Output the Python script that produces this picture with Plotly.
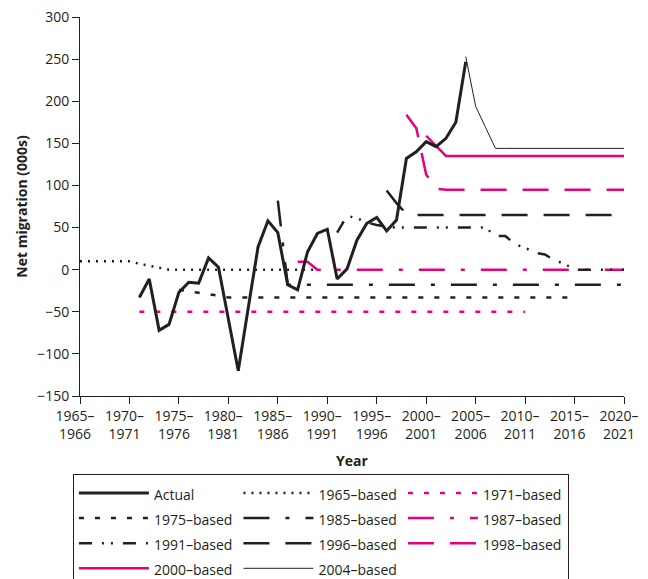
import plotly.graph_objects as go

# ---------------- data ----------------
actual_years = list(range(1971, 2005))
actual_vals = [-33, -11, -72, -65, -27, -15, -16, 14, 3, -58, -120, -46, 27, 58, 44,
               -18, -24, 21, 43, 48, -11, 1, 35, 55, 62, 46, 59, 132, 140, 152,
               146, 156, 175, 247]

p1965_years = list(range(1965, 1990))
p1965_vals = [10, 10, 10, 10, 10, 10, 7, 4.5, 2, 0, 0, 0, 0, 0, 0, 0, 0, 0, 0, 0,
              0, 0, 0, 0, 0]

p1971_years = list(range(1971, 2011))
p1971_vals = [-50] * 40

p1975_years = list(range(1975, 2016))
p1975_vals = [-24, -26, -27.5, -29, -31] + [-33] * 36

p1985_years = list(range(1985, 2021))
p1985_vals = [82] + [-18] * 35

p1987_years = list(range(1987, 2021))
p1987_vals = [9.5, 9.5] + [0] * 32

p1991_years = list(range(1991, 2021))
p1991_vals = [44, 64, 61, 56, 53, 51, 50, 50, 50, 50, 50, 50, 50, 50, 50, 50,
              40, 40, 30, 26, 20, 18, 11, 7, 0, 0, 0, 0, 0, 0]

p1996_years = list(range(1996, 2021))
p1996_vals = [94, 79, 66] + [65] * 22

p1998_years = list(range(1998, 2021))
p1998_vals = [184, 168, 113, 96] + [95] * 19

p2000_years = list(range(2000, 2021))
p2000_vals = [159, 147] + [135] * 19

p2004_years = list(range(2004, 2021))
p2004_vals = [253, 194, 169] + [144] * 14

tick_years = list(range(1965, 2021, 5))
tick_labels = [f"{y}–<br>{y + 1}" for y in tick_years]
y_ticks = list(range(-150, 301, 50))
y_tick_labels = [str(v).replace("-", "−") for v in y_ticks]

BLACK = "#231f20"
PINK = "#e6007e"
FONT = "Open Sans"

# (name, x, y, color, width, dash, legend rank)
series = [
    ("1965–based", p1965_years, p1965_vals, BLACK, 2.5, "2px,6px", 2),
    ("1971–based", p1971_years, p1971_vals, PINK, 2.5, "5px,11px", 3),
    ("1975–based", p1975_years, p1975_vals, BLACK, 2.5, "5px,11px", 4),
    ("1985–based", p1985_years, p1985_vals, BLACK, 2.5, "26px,16px,4px,16px", 5),
    ("1987–based", p1987_years, p1987_vals, PINK, 2.5, "26px,16px,4px,16px", 6),
    ("1991–based", p1991_years, p1991_vals, BLACK, 2.5, "13px,10px,2px,7px,2px,10px", 7),
    ("1996–based", p1996_years, p1996_vals, BLACK, 2.5, "26px,16px", 8),
    ("1998–based", p1998_years, p1998_vals, PINK, 2.5, "26px,16px", 9),
    ("2000–based", p2000_years, p2000_vals, PINK, 2.5, "solid", 10),
    ("2004–based", p2004_years, p2004_vals, BLACK, 1.0, "solid", 11),
    ("Actual", actual_years, actual_vals, BLACK, 3.0, "solid", 1),
]

fig = go.Figure()
for name, xs, ys, color, width, dash, rank in series:
    fig.add_trace(go.Scatter(
        x=xs, y=ys, mode="lines",
        name=f'<span style="font-size:14px">{name}</span>',
        line=dict(color=color, width=width, dash=dash),
        legendrank=rank,
        hoverinfo="skip",
    ))

fig.update_layout(
    width=648, height=579,
    margin=dict(l=80, r=24, t=17, b=183, autoexpand=False),
    paper_bgcolor="white", plot_bgcolor="white",
    font=dict(family=FONT, size=14, color=BLACK),
    showlegend=True,
    legend=dict(
        orientation="h",
        x=-0.013, xanchor="left",
        y=-0.207, yanchor="top",
        bordercolor=BLACK, borderwidth=1,
        bgcolor="white",
        font=dict(family=FONT, size=17, color=BLACK),
        itemwidth=70,
        entrywidth=79.5,
        entrywidthmode="pixels",
        traceorder="normal",
    ),
)

fig.update_xaxes(
    range=[1965, 2020],
    tickmode="array", tickvals=tick_years, ticktext=tick_labels,
    ticks="outside", ticklen=7, tickwidth=1, tickcolor=BLACK,
    showline=True, linecolor=BLACK, linewidth=1,
    showgrid=False, zeroline=False,
    tickfont=dict(family=FONT, size=14),
    ticklabelshift=-5,
    title=dict(text="<b>Year</b>", font=dict(family=FONT, size=14), standoff=14),
    automargin=False,
)
fig.update_yaxes(
    range=[-150, 300],
    tickmode="array", tickvals=y_ticks, ticktext=y_tick_labels,
    ticks="outside", ticklen=7, tickwidth=1, tickcolor=BLACK,
    showline=True, linecolor=BLACK, linewidth=1,
    showgrid=False, zeroline=False,
    tickfont=dict(family=FONT, size=14),
    title=dict(text="<b>Net migration (000s)</b>", font=dict(family=FONT, size=14), standoff=6),
    automargin=False,
)

fig.write_html("out.html")
